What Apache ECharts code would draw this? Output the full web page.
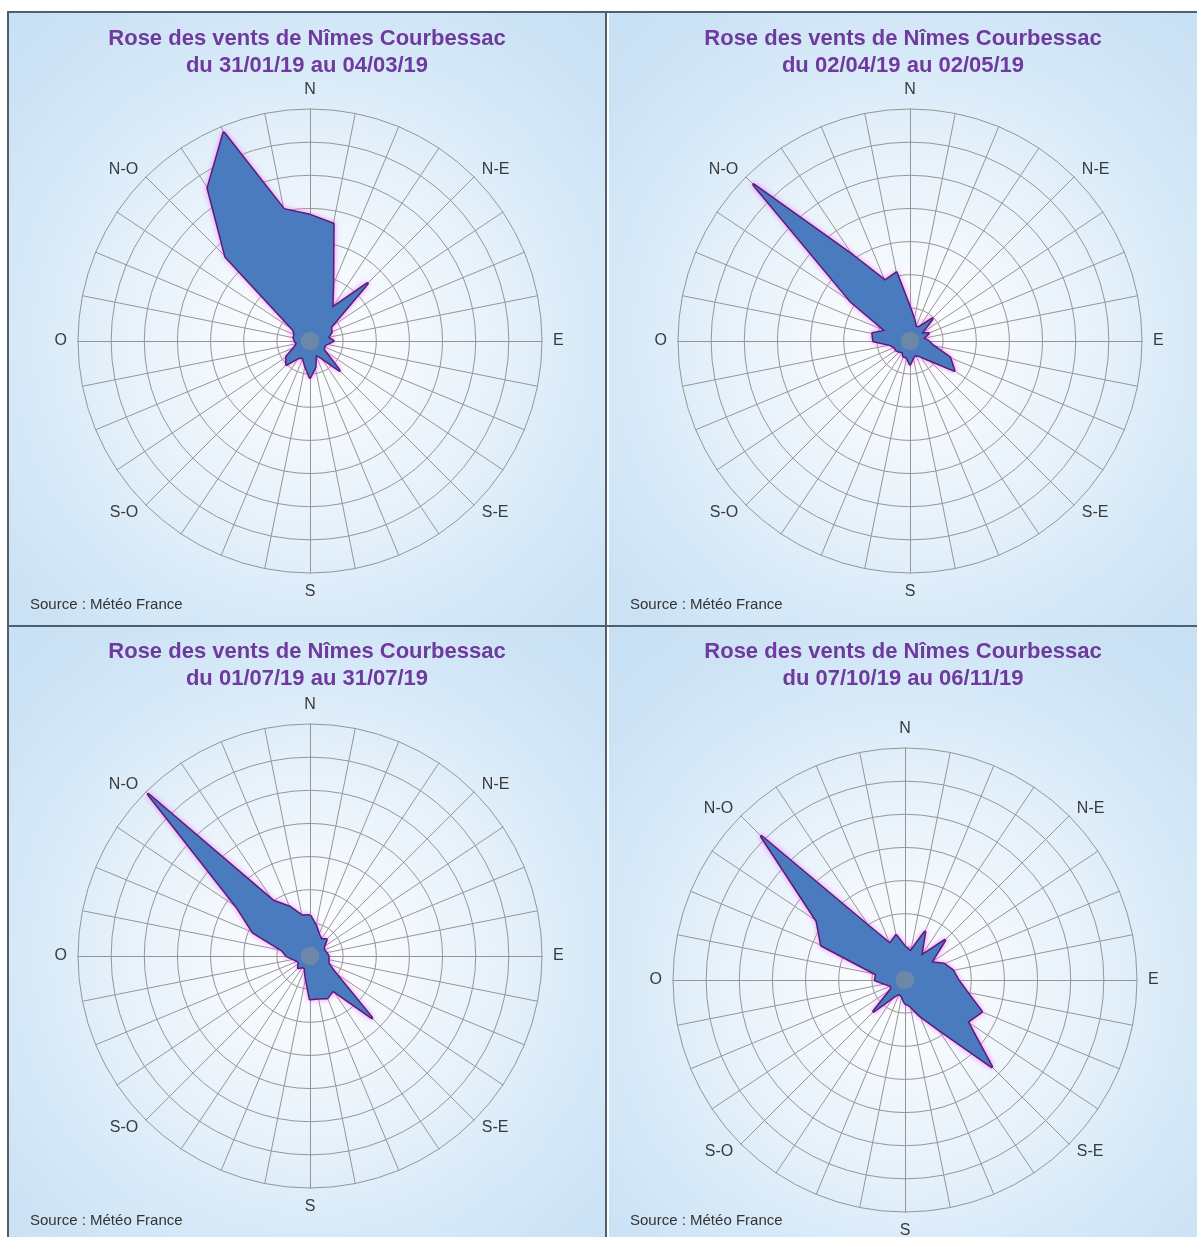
<!DOCTYPE html>
<html>
<head>
<meta charset="utf-8">
<script src="https://cdn.jsdelivr.net/npm/echarts@6/dist/echarts.min.js"></script>
<style>
html,body{margin:0;padding:0;background:#ffffff;width:1197px;height:1237px;overflow:hidden}
body{position:relative}
.chart{position:absolute}
.ln{position:absolute;background:#4f5f6e}
</style>
</head>
<body>
<div class="ln" style="left:8px;top:11px;width:1189px;height:2px"></div>
<div class="ln" style="left:7px;top:11px;width:2px;height:1226px"></div>
<div class="ln" style="left:605px;top:11px;width:2px;height:1226px"></div>
<div class="ln" style="left:8px;top:625px;width:1189px;height:2px"></div>
<div id="c1" class="chart" style="left:9px;top:13px;width:596px;height:612px"></div>
<div id="c2" class="chart" style="left:609px;top:13px;width:588px;height:612px"></div>
<div id="c3" class="chart" style="left:9px;top:627px;width:596px;height:610px"></div>
<div id="c4" class="chart" style="left:609px;top:627px;width:588px;height:610px"></div>
<script>
// Directions clockwise from North, every 11.25 degrees
const directionLabels = ['N','','','','N-E','','','','E','','','','S-E','','','',
                         'S','','','','S-O','','','','O','','','','N-O','','',''];
const titleLine = 'Rose des vents de Nîmes Courbessac';
const sourceText = 'Source : Météo France';
const periods = ['du 31/01/19 au 04/03/19','du 02/04/19 au 02/05/19','du 01/07/19 au 31/07/19','du 07/10/19 au 06/11/19'];
const axisMax = 7;

// frequencies (ring units), clockwise from North
const rose1 = [3.8,3.6,1.8,1.2,2.45,0.75,0.7,0.55,0.7,0.5,0.45,0.5,1.25,0.6,0.45,0.8,
               1.1,0.75,0.55,0.6,1.0,0.85,0.5,0.4,0.45,0.5,0.5,0.6,3.6,5.55,6.8,4.05];
const rose2 = [1.0,0.65,0.45,0.5,0.95,0.4,0.6,0.4,0.55,0.7,1.3,1.6,0.8,0.55,0.45,0.5,
               0.7,0.5,0.5,0.4,0.45,0.5,0.5,0.6,1.1,1.15,0.8,2.15,6.67,3.1,1.97,2.1];
const rose3 = [1.22,0.92,0.7,0.6,0.7,0.5,0.45,0.5,0.55,0.56,0.6,0.9,2.64,1.25,1.37,1.3,
               1.3,0.65,0.4,0.4,0.5,0.4,0.4,0.5,0.7,0.85,1.86,2.65,6.9,2.0,1.6,1.24];
const rose4 = [1.0,0.88,1.57,0.87,1.7,0.95,1.27,1.47,1.6,1.91,2.5,2.27,3.7,1.77,1.17,0.8,
               0.7,0.5,0.45,0.6,1.34,0.5,0.45,0.6,0.9,0.88,2.73,3.2,6.13,1.92,1.18,1.37];
const calmValue = 0.28;

const panels = [
  {id:'c1', values: rose1, period: periods[0], center:[301,328], titleTop:12, sourceTop:584},
  {id:'c2', values: rose2, period: periods[1], center:[301,328], titleTop:12, sourceTop:584},
  {id:'c3', values: rose3, period: periods[2], center:[301,329], titleTop:11, sourceTop:586},
  {id:'c4', values: rose4, period: periods[3], center:[296,353], titleTop:11, sourceTop:586}
];

function buildOption(p) {
  const n = directionLabels.length;
  const indicator = [], vals = [], calm = [];
  for (let i = 0; i < n; i++) {
    const k = (n - i) % n; // radar runs counter-clockwise: reorder
    indicator.push({name: directionLabels[k], max: axisMax, min: 0});
    vals.push(p.values[k]);
    calm.push(calmValue);
  }
  return {
    animation: false,
    title: [
      {text: titleLine + '\n' + p.period, left: 'center', top: p.titleTop, padding: 0,
       textStyle: {fontFamily: 'Liberation Sans', fontWeight: 'bold', fontSize: 22, lineHeight: 27, color: '#6f3a9e'}},
      {text: sourceText, left: 21, top: p.sourceTop, padding: 0,
       textStyle: {fontFamily: 'Liberation Sans', fontWeight: 'normal', fontSize: 15, color: '#333333'}}
    ],
    radar: {
      center: p.center,
      radius: 232,
      startAngle: 90,
      shape: 'circle',
      splitNumber: 7,
      indicator: indicator,
      nameGap: 11,
      axisName: {color: '#3a3a3a', fontFamily: 'Liberation Sans', fontSize: 16},
      splitLine: {lineStyle: {color: '#959595', width: 1}},
      splitArea: {show: false},
      axisLine: {lineStyle: {color: '#959595', width: 1}}
    },
    series: [
      {type: 'radar', symbol: 'none', silent: true,
       data: [{value: vals, name: 'fréquence'}],
       lineStyle: {color: '#5a1c78', width: 3, shadowBlur: 5, shadowColor: 'rgba(255,80,255,0.8)'},
       areaStyle: {color: '#4a7bbf', opacity: 1}},
      {type: 'radar', symbol: 'none', silent: true,
       data: [{value: calm, name: 'calme'}],
       lineStyle: {width: 0, opacity: 0},
       areaStyle: {color: '#7f8d9b', opacity: 0.65}}
    ]
  };
}

panels.forEach(function (p) {
  const el = document.getElementById(p.id);
  el.style.background = 'radial-gradient(circle at ' + p.center[0] + 'px ' + p.center[1] + 'px, #ffffff 0px, #f6fafe 70px, #e6f1fa 190px, #d6e9f8 290px, #cce3f5 380px, #c6dff3 480px)';
  const chart = echarts.init(el, null, {renderer: 'canvas'});
  chart.setOption(buildOption(p));
});
</script>
</body>
</html>
